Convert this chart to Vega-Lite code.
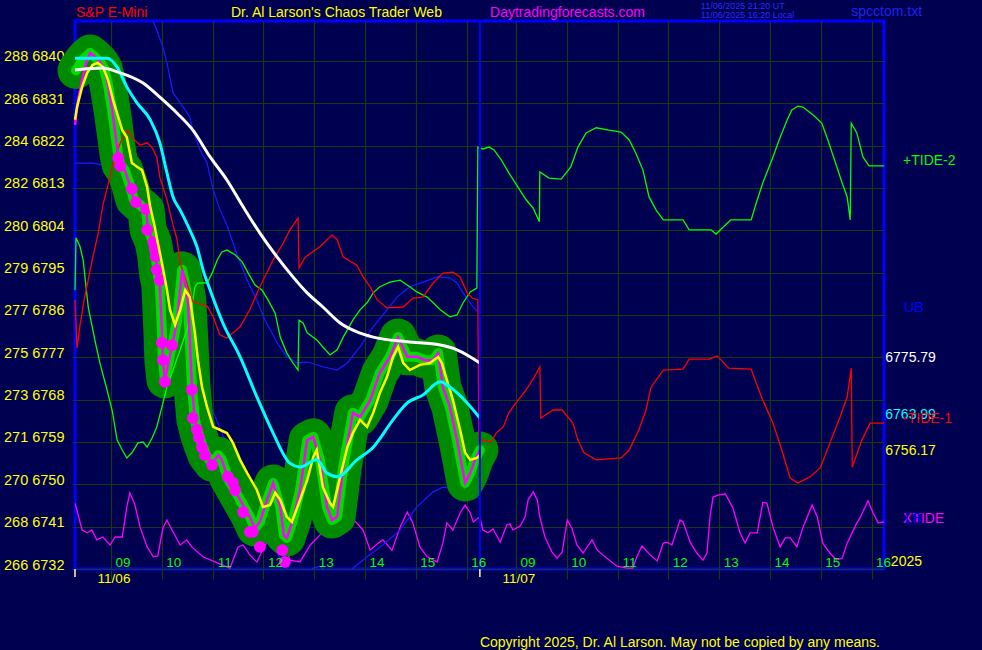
{
"$schema": "https://vega.github.io/schema/vega-lite/v6.json",
"width": 809, "height": 548,
"autosize": {"type": "none"},
"padding": {"left": 75, "top": 21, "right": 98, "bottom": 81},
"background": "#000050",
"config": {
 "view": {"stroke": "#0000ff", "strokeWidth": 3, "fill": "#000050"},
 "font": "Liberation Sans",
 "axis": {"domain": false, "title": null, "labelFont": "Liberation Sans"}
},
"datasets": {
 "white": [{"t":8.29,"p":6838.1},{"t":8.84,"p":6838.5},{"t":9.12,"p":6837.7},{"t":9.63,"p":6835.3},{"t":9.96,"p":6832.3},{"t":10.30,"p":6828.9},{"t":10.61,"p":6825.3},{"t":10.95,"p":6819.6},{"t":11.28,"p":6814.7},{"t":11.60,"p":6809.0},{"t":11.93,"p":6803.4},{"t":12.27,"p":6798.3},{"t":12.58,"p":6794.1},{"t":12.86,"p":6790.7},{"t":13.17,"p":6787.7},{"t":13.51,"p":6784.3},{"t":13.84,"p":6782.4},{"t":14.16,"p":6781.3},{"t":14.83,"p":6780.3},{"t":15.48,"p":6779.6},{"t":15.81,"p":6778.6},{"t":16.26,"p":6775.8}],
 "cyan": [{"t":8.29,"p":6840.6},{"t":8.92,"p":6840.6},{"t":9.12,"p":6838.7},{"t":9.31,"p":6834.5},{"t":9.51,"p":6831.1},{"t":9.77,"p":6827.5},{"t":9.96,"p":6822.6},{"t":10.10,"p":6816.2},{"t":10.22,"p":6811.1},{"t":10.36,"p":6808.3},{"t":10.55,"p":6804.1},{"t":10.69,"p":6800.5},{"t":10.81,"p":6795.6},{"t":10.95,"p":6791.3},{"t":11.20,"p":6784.3},{"t":11.54,"p":6777.1},{"t":11.87,"p":6768.6},{"t":12.19,"p":6760.9},{"t":12.52,"p":6754.5},{"t":12.72,"p":6753.7},{"t":13.05,"p":6755.2},{"t":13.25,"p":6752.4},{"t":13.45,"p":6751.6},{"t":13.84,"p":6755.2},{"t":14.16,"p":6757.9},{"t":14.55,"p":6763.7},{"t":14.83,"p":6767.3},{"t":15.14,"p":6769.0},{"t":15.48,"p":6771.8},{"t":15.67,"p":6770.7},{"t":16.01,"p":6767.3},{"t":16.26,"p":6764.1}],
 "yellow": [{"t":8.29,"p":6827.5},{"t":8.33,"p":6830.2},{"t":8.43,"p":6834.5},{"t":8.53,"p":6837.5},{"t":8.64,"p":6839.2},{"t":8.74,"p":6839.6},{"t":8.84,"p":6838.7},{"t":8.94,"p":6836.0},{"t":9.04,"p":6831.7},{"t":9.14,"p":6828.1},{"t":9.22,"p":6825.3},{"t":9.31,"p":6823.8},{"t":9.41,"p":6818.3},{"t":9.51,"p":6817.5},{"t":9.61,"p":6816.8},{"t":9.71,"p":6813.2},{"t":9.77,"p":6809.0},{"t":9.86,"p":6804.7},{"t":9.92,"p":6801.3},{"t":10.00,"p":6797.1},{"t":10.10,"p":6791.3},{"t":10.16,"p":6787.1},{"t":10.26,"p":6783.9},{"t":10.36,"p":6787.1},{"t":10.46,"p":6791.3},{"t":10.55,"p":6789.8},{"t":10.65,"p":6782.2},{"t":10.71,"p":6776.4},{"t":10.79,"p":6770.7},{"t":10.89,"p":6766.4},{"t":11.01,"p":6762.2},{"t":11.14,"p":6761.6},{"t":11.28,"p":6760.9},{"t":11.40,"p":6758.8},{"t":11.54,"p":6755.2},{"t":11.68,"p":6752.4},{"t":11.87,"p":6748.8},{"t":11.99,"p":6745.2},{"t":12.13,"p":6745.6},{"t":12.23,"p":6748.2},{"t":12.33,"p":6746.7},{"t":12.46,"p":6743.1},{"t":12.56,"p":6742.0},{"t":12.72,"p":6746.7},{"t":12.86,"p":6750.9},{"t":12.98,"p":6755.8},{"t":13.05,"p":6757.3},{"t":13.17,"p":6749.4},{"t":13.31,"p":6746.0},{"t":13.37,"p":6745.2},{"t":13.51,"p":6751.6},{"t":13.65,"p":6757.9},{"t":13.76,"p":6760.9},{"t":13.90,"p":6763.7},{"t":14.04,"p":6762.2},{"t":14.16,"p":6765.2},{"t":14.29,"p":6769.4},{"t":14.43,"p":6772.8},{"t":14.55,"p":6777.1},{"t":14.65,"p":6779.2},{"t":14.75,"p":6775.8},{"t":14.88,"p":6774.3},{"t":15.08,"p":6775.4},{"t":15.28,"p":6775.8},{"t":15.44,"p":6777.1},{"t":15.51,"p":6775.8},{"t":15.61,"p":6772.2},{"t":15.73,"p":6767.9},{"t":15.87,"p":6761.6},{"t":15.97,"p":6756.7},{"t":16.07,"p":6755.2},{"t":16.20,"p":6755.6},{"t":16.26,"p":6756.2}],
 "price": [{"t":8.29,"p":6826.4},{"t":8.35,"p":6831.7},{"t":8.43,"p":6836.0},{"t":8.51,"p":6839.8},{"t":8.59,"p":6841.7},{"t":8.68,"p":6840.9},{"t":8.78,"p":6839.8},{"t":8.86,"p":6838.5},{"t":8.94,"p":6834.9},{"t":9.02,"p":6829.6},{"t":9.10,"p":6823.2},{"t":9.14,"p":6820.0},{"t":9.18,"p":6817.9},{"t":9.27,"p":6816.8},{"t":9.37,"p":6813.6},{"t":9.45,"p":6810.5},{"t":9.57,"p":6809.4},{"t":9.69,"p":6808.3},{"t":9.73,"p":6804.1},{"t":9.83,"p":6801.5},{"t":9.88,"p":6798.5},{"t":9.92,"p":6794.5},{"t":9.96,"p":6792.4},{"t":10.00,"p":6782.8},{"t":10.02,"p":6776.4},{"t":10.06,"p":6772.2},{"t":10.16,"p":6777.5},{"t":10.22,"p":6780.3},{"t":10.30,"p":6784.9},{"t":10.36,"p":6791.3},{"t":10.40,"p":6795.6},{"t":10.46,"p":6792.4},{"t":10.51,"p":6789.2},{"t":10.55,"p":6780.7},{"t":10.59,"p":6771.1},{"t":10.65,"p":6763.7},{"t":10.71,"p":6761.1},{"t":10.79,"p":6758.4},{"t":10.87,"p":6756.2},{"t":10.99,"p":6754.5},{"t":11.11,"p":6756.2},{"t":11.18,"p":6755.2},{"t":11.30,"p":6751.3},{"t":11.40,"p":6749.4},{"t":11.60,"p":6745.6},{"t":11.73,"p":6743.1},{"t":11.83,"p":6740.7},{"t":11.93,"p":6742.0},{"t":12.07,"p":6746.7},{"t":12.19,"p":6750.3},{"t":12.33,"p":6745.2},{"t":12.40,"p":6739.2},{"t":12.46,"p":6738.6},{"t":12.58,"p":6742.4},{"t":12.72,"p":6748.8},{"t":12.86,"p":6759.4},{"t":12.98,"p":6760.1},{"t":13.11,"p":6755.2},{"t":13.25,"p":6745.2},{"t":13.35,"p":6742.4},{"t":13.45,"p":6743.1},{"t":13.57,"p":6753.7},{"t":13.76,"p":6765.2},{"t":13.90,"p":6764.3},{"t":14.10,"p":6767.9},{"t":14.29,"p":6773.7},{"t":14.49,"p":6777.1},{"t":14.65,"p":6781.3},{"t":14.83,"p":6777.1},{"t":15.02,"p":6777.1},{"t":15.18,"p":6776.4},{"t":15.34,"p":6776.4},{"t":15.44,"p":6777.9},{"t":15.53,"p":6770.7},{"t":15.67,"p":6766.4},{"t":15.81,"p":6759.4},{"t":15.97,"p":6750.3},{"t":16.07,"p":6752.4},{"t":16.16,"p":6755.2},{"t":16.26,"p":6757.3}],
 "glow": [{"t":8.31,"p":6838.0},{"t":8.43,"p":6840.0},{"t":8.51,"p":6841.0},{"t":8.59,"p":6841.7},{"t":8.68,"p":6840.9},{"t":8.78,"p":6839.8},{"t":8.86,"p":6838.5},{"t":8.94,"p":6834.9},{"t":9.02,"p":6829.6},{"t":9.10,"p":6823.2},{"t":9.14,"p":6820.0},{"t":9.18,"p":6817.9},{"t":9.27,"p":6816.8},{"t":9.37,"p":6813.6},{"t":9.45,"p":6810.5},{"t":9.57,"p":6809.4},{"t":9.69,"p":6808.3},{"t":9.73,"p":6804.1},{"t":9.83,"p":6801.5},{"t":9.88,"p":6798.5},{"t":9.92,"p":6794.5},{"t":9.96,"p":6792.4},{"t":10.00,"p":6782.8},{"t":10.02,"p":6776.4},{"t":10.06,"p":6772.2},{"t":10.16,"p":6777.5},{"t":10.22,"p":6780.3},{"t":10.30,"p":6784.9},{"t":10.36,"p":6791.3},{"t":10.40,"p":6795.6},{"t":10.46,"p":6792.4},{"t":10.51,"p":6789.2},{"t":10.55,"p":6780.7},{"t":10.59,"p":6771.1},{"t":10.65,"p":6763.7},{"t":10.71,"p":6761.1},{"t":10.79,"p":6758.4},{"t":10.87,"p":6756.2},{"t":10.99,"p":6754.5},{"t":11.11,"p":6756.2},{"t":11.18,"p":6755.2},{"t":11.30,"p":6751.3},{"t":11.40,"p":6749.4},{"t":11.60,"p":6745.6},{"t":11.73,"p":6743.1},{"t":11.83,"p":6740.7},{"t":11.93,"p":6742.0},{"t":12.07,"p":6746.7},{"t":12.19,"p":6750.3},{"t":12.33,"p":6745.2},{"t":12.40,"p":6739.2},{"t":12.46,"p":6738.6},{"t":12.58,"p":6742.4},{"t":12.72,"p":6748.8},{"t":12.86,"p":6759.4},{"t":12.98,"p":6760.1},{"t":13.11,"p":6755.2},{"t":13.25,"p":6745.2},{"t":13.35,"p":6742.4},{"t":13.45,"p":6743.1},{"t":13.57,"p":6753.7},{"t":13.76,"p":6765.2},{"t":13.90,"p":6764.3},{"t":14.10,"p":6767.9},{"t":14.29,"p":6773.7},{"t":14.49,"p":6777.1},{"t":14.65,"p":6781.3},{"t":14.83,"p":6777.1},{"t":15.02,"p":6777.1},{"t":15.18,"p":6776.4},{"t":15.34,"p":6776.4},{"t":15.44,"p":6777.9},{"t":15.53,"p":6770.7},{"t":15.67,"p":6766.4},{"t":15.81,"p":6759.4},{"t":15.97,"p":6750.3},{"t":16.07,"p":6752.4},{"t":16.16,"p":6755.2},{"t":16.26,"p":6757.3}],
 "dots": [{"t":9.14,"p":6819.4},{"t":9.18,"p":6817.7},{"t":9.41,"p":6812.8},{"t":9.49,"p":6810.0},{"t":9.69,"p":6808.5},{"t":9.71,"p":6804.1},{"t":9.83,"p":6801.5},{"t":9.86,"p":6800.2},{"t":9.88,"p":6798.5},{"t":9.90,"p":6795.6},{"t":9.96,"p":6793.4},{"t":10.00,"p":6780.1},{"t":10.02,"p":6776.4},{"t":10.06,"p":6771.8},{"t":10.20,"p":6779.6},{"t":10.59,"p":6770.1},{"t":10.61,"p":6764.1},{"t":10.69,"p":6761.6},{"t":10.73,"p":6759.9},{"t":10.79,"p":6757.9},{"t":10.85,"p":6756.2},{"t":10.99,"p":6754.1},{"t":11.30,"p":6751.6},{"t":11.40,"p":6750.3},{"t":11.44,"p":6748.8},{"t":11.60,"p":6744.1},{"t":11.73,"p":6739.9},{"t":11.79,"p":6739.9},{"t":11.93,"p":6736.7},{"t":12.37,"p":6736.0},{"t":12.42,"p":6733.5}],
 "red": [{"t":8.29,"p":6789.2},{"t":8.33,"p":6779.0},{"t":8.39,"p":6783.9},{"t":8.47,"p":6789.2},{"t":8.55,"p":6793.4},{"t":8.64,"p":6798.3},{"t":8.74,"p":6803.0},{"t":8.84,"p":6809.4},{"t":8.94,"p":6813.6},{"t":9.04,"p":6818.3},{"t":9.14,"p":6821.5},{"t":9.23,"p":6823.8},{"t":9.33,"p":6825.3},{"t":9.41,"p":6823.8},{"t":9.57,"p":6822.1},{"t":9.71,"p":6822.6},{"t":9.81,"p":6821.5},{"t":9.90,"p":6819.6},{"t":9.96,"p":6815.3},{"t":10.10,"p":6810.5},{"t":10.22,"p":6805.1},{"t":10.30,"p":6802.0},{"t":10.36,"p":6797.1},{"t":10.49,"p":6792.8},{"t":10.61,"p":6788.8},{"t":10.89,"p":6787.9},{"t":11.01,"p":6785.6},{"t":11.14,"p":6781.8},{"t":11.28,"p":6781.1},{"t":11.40,"p":6782.2},{"t":11.54,"p":6783.5},{"t":11.73,"p":6787.1},{"t":11.93,"p":6792.0},{"t":12.19,"p":6797.7},{"t":12.39,"p":6801.3},{"t":12.52,"p":6804.1},{"t":12.68,"p":6806.6},{"t":12.70,"p":6796.0},{"t":12.82,"p":6798.3},{"t":13.11,"p":6800.5},{"t":13.35,"p":6803.0},{"t":13.45,"p":6802.0},{"t":13.57,"p":6798.3},{"t":13.84,"p":6796.6},{"t":13.96,"p":6794.1},{"t":14.10,"p":6792.0},{"t":14.24,"p":6789.2},{"t":14.43,"p":6787.5},{"t":14.75,"p":6787.7},{"t":14.94,"p":6789.6},{"t":15.14,"p":6789.8},{"t":15.34,"p":6792.8},{"t":15.53,"p":6794.9},{"t":15.73,"p":6795.1},{"t":15.87,"p":6794.1},{"t":16.01,"p":6790.7},{"t":16.11,"p":6789.6},{"t":16.22,"p":6789.2},{"t":16.24,"p":6759.4},{"t":16.32,"p":6759.4},{"t":16.48,"p":6759.0},{"t":16.58,"p":6760.9},{"t":16.72,"p":6762.2},{"t":16.83,"p":6765.2},{"t":16.97,"p":6767.3},{"t":17.17,"p":6770.1},{"t":17.33,"p":6772.8},{"t":17.44,"p":6775.0},{"t":17.46,"p":6764.1},{"t":17.70,"p":6765.8},{"t":17.88,"p":6765.8},{"t":18.09,"p":6763.0},{"t":18.19,"p":6759.4},{"t":18.31,"p":6756.7},{"t":18.55,"p":6755.2},{"t":18.80,"p":6755.4},{"t":19.04,"p":6755.6},{"t":19.20,"p":6757.3},{"t":19.39,"p":6761.6},{"t":19.53,"p":6765.8},{"t":19.63,"p":6770.7},{"t":19.87,"p":6774.3},{"t":20.26,"p":6774.5},{"t":20.38,"p":6776.6},{"t":20.77,"p":6776.6},{"t":20.93,"p":6777.3},{"t":21.16,"p":6774.7},{"t":21.60,"p":6774.5},{"t":21.70,"p":6771.5},{"t":21.83,"p":6767.9},{"t":22.03,"p":6763.0},{"t":22.17,"p":6758.4},{"t":22.37,"p":6751.3},{"t":22.52,"p":6750.3},{"t":22.76,"p":6751.6},{"t":22.96,"p":6753.5},{"t":23.15,"p":6758.8},{"t":23.35,"p":6764.3},{"t":23.49,"p":6768.6},{"t":23.57,"p":6774.7},{"t":23.59,"p":6753.7},{"t":23.78,"p":6759.4},{"t":23.94,"p":6763.0},{"t":24.22,"p":6763.0}],
 "green": [{"t":8.29,"p":6791.3},{"t":8.31,"p":6802.4},{"t":8.39,"p":6800.5},{"t":8.45,"p":6797.7},{"t":8.55,"p":6787.7},{"t":8.68,"p":6780.7},{"t":8.78,"p":6775.8},{"t":8.92,"p":6770.1},{"t":9.02,"p":6765.8},{"t":9.12,"p":6759.4},{"t":9.22,"p":6757.3},{"t":9.31,"p":6755.6},{"t":9.41,"p":6756.7},{"t":9.53,"p":6758.8},{"t":9.63,"p":6759.0},{"t":9.71,"p":6757.9},{"t":9.81,"p":6759.9},{"t":9.90,"p":6762.2},{"t":10.00,"p":6766.4},{"t":10.10,"p":6770.7},{"t":10.22,"p":6774.3},{"t":10.36,"p":6778.6},{"t":10.49,"p":6782.8},{"t":10.59,"p":6787.7},{"t":10.65,"p":6792.0},{"t":10.71,"p":6792.8},{"t":10.89,"p":6792.8},{"t":10.99,"p":6794.9},{"t":11.09,"p":6797.7},{"t":11.18,"p":6799.4},{"t":11.28,"p":6799.8},{"t":11.44,"p":6798.8},{"t":11.58,"p":6797.3},{"t":11.70,"p":6794.9},{"t":11.83,"p":6792.4},{"t":11.97,"p":6791.3},{"t":12.09,"p":6789.2},{"t":12.23,"p":6786.4},{"t":12.33,"p":6781.3},{"t":12.46,"p":6777.9},{"t":12.58,"p":6775.8},{"t":12.68,"p":6774.3},{"t":12.70,"p":6784.9},{"t":12.78,"p":6784.3},{"t":12.86,"p":6782.2},{"t":13.05,"p":6780.7},{"t":13.17,"p":6779.2},{"t":13.31,"p":6777.5},{"t":13.45,"p":6778.6},{"t":13.57,"p":6781.3},{"t":13.76,"p":6784.9},{"t":13.90,"p":6787.1},{"t":14.04,"p":6788.6},{"t":14.16,"p":6790.7},{"t":14.29,"p":6792.0},{"t":14.49,"p":6793.0},{"t":14.69,"p":6793.4},{"t":14.88,"p":6792.0},{"t":15.02,"p":6790.9},{"t":15.22,"p":6789.8},{"t":15.34,"p":6788.6},{"t":15.48,"p":6787.1},{"t":15.67,"p":6785.6},{"t":15.81,"p":6786.0},{"t":15.93,"p":6788.6},{"t":16.07,"p":6790.9},{"t":16.20,"p":6791.7},{"t":16.22,"p":6821.7},{"t":16.32,"p":6821.3},{"t":16.44,"p":6821.7},{"t":16.54,"p":6821.1},{"t":16.68,"p":6819.0},{"t":16.83,"p":6816.2},{"t":17.01,"p":6813.2},{"t":17.17,"p":6810.5},{"t":17.31,"p":6808.7},{"t":17.43,"p":6805.8},{"t":17.44,"p":6816.4},{"t":17.62,"p":6815.1},{"t":17.86,"p":6814.9},{"t":18.05,"p":6817.5},{"t":18.19,"p":6821.7},{"t":18.35,"p":6824.7},{"t":18.55,"p":6825.8},{"t":18.80,"p":6825.3},{"t":19.04,"p":6824.9},{"t":19.20,"p":6823.2},{"t":19.33,"p":6820.4},{"t":19.47,"p":6816.8},{"t":19.59,"p":6811.1},{"t":19.73,"p":6808.3},{"t":19.87,"p":6806.2},{"t":20.26,"p":6806.2},{"t":20.38,"p":6804.1},{"t":20.81,"p":6804.1},{"t":20.91,"p":6803.2},{"t":21.05,"p":6804.7},{"t":21.20,"p":6806.2},{"t":21.60,"p":6806.2},{"t":21.70,"p":6809.8},{"t":21.83,"p":6814.1},{"t":22.03,"p":6819.6},{"t":22.15,"p":6823.2},{"t":22.31,"p":6827.5},{"t":22.40,"p":6829.6},{"t":22.52,"p":6830.4},{"t":22.62,"p":6830.2},{"t":22.82,"p":6828.5},{"t":22.99,"p":6826.8},{"t":23.11,"p":6823.2},{"t":23.24,"p":6819.0},{"t":23.39,"p":6814.1},{"t":23.49,"p":6811.1},{"t":23.55,"p":6806.2},{"t":23.57,"p":6826.8},{"t":23.68,"p":6824.7},{"t":23.80,"p":6819.6},{"t":23.92,"p":6817.7},{"t":24.22,"p":6817.7}],
 "ub": [{"t":9.77,"p":6849.8},{"t":9.90,"p":6846.6},{"t":10.02,"p":6843.0},{"t":10.10,"p":6839.6},{"t":10.22,"p":6833.2},{"t":10.42,"p":6830.2},{"t":10.55,"p":6828.1},{"t":10.61,"p":6825.3},{"t":10.75,"p":6821.1},{"t":10.89,"p":6818.3},{"t":11.01,"p":6812.6},{"t":11.14,"p":6808.5},{"t":11.28,"p":6805.1},{"t":11.48,"p":6798.8},{"t":11.68,"p":6793.4},{"t":11.87,"p":6789.2},{"t":12.03,"p":6784.9},{"t":12.27,"p":6780.1},{"t":12.46,"p":6777.1},{"t":12.66,"p":6775.8},{"t":12.86,"p":6776.0},{"t":13.17,"p":6775.0},{"t":13.45,"p":6774.3},{"t":13.65,"p":6775.8},{"t":13.90,"p":6779.2},{"t":14.16,"p":6783.5},{"t":14.43,"p":6787.1},{"t":14.63,"p":6789.8},{"t":14.88,"p":6792.0},{"t":15.14,"p":6793.0},{"t":15.42,"p":6794.1},{"t":15.67,"p":6793.9},{"t":15.81,"p":6792.8},{"t":15.93,"p":6790.7},{"t":16.13,"p":6787.7},{"t":16.22,"p":6786.6}],
 "lb": [{"t":8.29,"p":6818.3},{"t":8.64,"p":6818.3},{"t":8.84,"p":6817.9},{"t":9.04,"p":6816.8},{"t":9.18,"p":6815.3},{"t":9.27,"p":6813.2},{"t":9.47,"p":6807.3},{"t":9.67,"p":6800.9},{"t":9.86,"p":6794.5},{"t":10.06,"p":6788.1},{"t":10.26,"p":6781.8},{"t":10.46,"p":6776.4},{"t":10.65,"p":6772.2},{"t":10.75,"p":6769.4},{"t":10.89,"p":6767.3},{"t":11.01,"p":6765.4},{"t":11.24,"p":6759.4},{"t":11.54,"p":6752.0},{"t":11.83,"p":6744.5},{"t":12.13,"p":6738.2},{"t":12.42,"p":6732.4},{"t":12.72,"p":6729.7},{"t":12.98,"p":6732.2},{"t":13.11,"p":6732.6},{"t":13.41,"p":6729.7},{"t":13.74,"p":6732.0},{"t":14.04,"p":6734.6},{"t":14.35,"p":6737.1},{"t":14.69,"p":6740.3},{"t":15.02,"p":6745.2},{"t":15.34,"p":6748.4},{"t":15.53,"p":6749.4},{"t":15.73,"p":6749.2},{"t":16.01,"p":6748.2},{"t":16.26,"p":6747.1}],
 "xtide": [{"t":8.29,"p":6746.0},{"t":8.43,"p":6740.3},{"t":8.53,"p":6739.7},{"t":8.62,"p":6740.3},{"t":8.72,"p":6738.2},{"t":8.84,"p":6738.8},{"t":8.98,"p":6737.1},{"t":9.08,"p":6738.8},{"t":9.22,"p":6738.8},{"t":9.31,"p":6745.2},{"t":9.37,"p":6748.2},{"t":9.47,"p":6745.6},{"t":9.57,"p":6740.9},{"t":9.71,"p":6736.7},{"t":9.83,"p":6734.6},{"t":9.92,"p":6734.8},{"t":10.02,"p":6740.7},{"t":10.10,"p":6742.4},{"t":10.20,"p":6740.3},{"t":10.36,"p":6737.1},{"t":10.49,"p":6738.2},{"t":10.59,"p":6736.7},{"t":10.81,"p":6734.6},{"t":11.09,"p":6733.3},{"t":11.34,"p":6732.2},{"t":11.50,"p":6736.7},{"t":11.60,"p":6737.1},{"t":11.73,"p":6735.0},{"t":11.87,"p":6733.5},{"t":12.03,"p":6737.1},{"t":12.19,"p":6738.8},{"t":12.33,"p":6739.2},{"t":12.46,"p":6736.0},{"t":12.52,"p":6733.9},{"t":12.72,"p":6733.5},{"t":12.92,"p":6737.1},{"t":13.11,"p":6739.2},{"t":13.31,"p":6741.4},{"t":13.51,"p":6742.6},{"t":13.65,"p":6742.6},{"t":13.80,"p":6742.2},{"t":13.96,"p":6740.3},{"t":14.10,"p":6736.0},{"t":14.26,"p":6737.5},{"t":14.35,"p":6738.2},{"t":14.53,"p":6736.0},{"t":14.69,"p":6740.9},{"t":14.83,"p":6744.1},{"t":14.94,"p":6741.8},{"t":15.08,"p":6736.7},{"t":15.22,"p":6734.6},{"t":15.42,"p":6733.5},{"t":15.53,"p":6737.5},{"t":15.61,"p":6741.8},{"t":15.73,"p":6740.3},{"t":15.87,"p":6743.9},{"t":15.97,"p":6745.6},{"t":16.07,"p":6743.9},{"t":16.13,"p":6742.0},{"t":16.26,"p":6743.1},{"t":16.32,"p":6740.3},{"t":16.42,"p":6739.7},{"t":16.52,"p":6740.5},{"t":16.66,"p":6737.7},{"t":16.79,"p":6741.4},{"t":16.85,"p":6741.6},{"t":16.91,"p":6740.3},{"t":17.05,"p":6741.1},{"t":17.15,"p":6743.1},{"t":17.21,"p":6746.7},{"t":17.31,"p":6748.4},{"t":17.39,"p":6746.7},{"t":17.44,"p":6743.1},{"t":17.54,"p":6738.8},{"t":17.68,"p":6735.6},{"t":17.78,"p":6734.3},{"t":17.88,"p":6735.6},{"t":17.98,"p":6742.4},{"t":18.07,"p":6740.7},{"t":18.17,"p":6737.1},{"t":18.29,"p":6735.4},{"t":18.47,"p":6738.2},{"t":18.57,"p":6736.0},{"t":18.76,"p":6734.3},{"t":18.96,"p":6732.6},{"t":19.16,"p":6732.2},{"t":19.27,"p":6732.2},{"t":19.35,"p":6734.6},{"t":19.45,"p":6736.9},{"t":19.61,"p":6735.0},{"t":19.75,"p":6733.7},{"t":19.87,"p":6737.5},{"t":19.95,"p":6737.7},{"t":20.04,"p":6737.1},{"t":20.20,"p":6742.4},{"t":20.26,"p":6742.0},{"t":20.40,"p":6737.7},{"t":20.53,"p":6735.4},{"t":20.65,"p":6733.9},{"t":20.73,"p":6735.4},{"t":20.79,"p":6743.1},{"t":20.85,"p":6747.3},{"t":20.95,"p":6747.7},{"t":21.09,"p":6748.0},{"t":21.24,"p":6745.0},{"t":21.38,"p":6739.7},{"t":21.48,"p":6737.5},{"t":21.58,"p":6739.7},{"t":21.72,"p":6739.7},{"t":21.83,"p":6746.2},{"t":21.91,"p":6746.0},{"t":22.03,"p":6740.9},{"t":22.17,"p":6736.7},{"t":22.27,"p":6738.6},{"t":22.37,"p":6738.6},{"t":22.50,"p":6736.7},{"t":22.62,"p":6740.9},{"t":22.80,"p":6745.6},{"t":22.90,"p":6743.1},{"t":23.01,"p":6737.5},{"t":23.15,"p":6735.4},{"t":23.28,"p":6733.9},{"t":23.39,"p":6734.3},{"t":23.49,"p":6737.5},{"t":23.68,"p":6741.8},{"t":23.74,"p":6742.8},{"t":23.90,"p":6746.5},{"t":24.00,"p":6743.9},{"t":24.10,"p":6741.8},{"t":24.22,"p":6742.0}],
 "hours": [{"t":9,"p":6732,"txt":"09"},{"t":10,"p":6732,"txt":"10"},{"t":11,"p":6732,"txt":"11"},{"t":12,"p":6732,"txt":"12"},{"t":13,"p":6732,"txt":"13"},{"t":14,"p":6732,"txt":"14"},{"t":15,"p":6732,"txt":"15"},{"t":16,"p":6732,"txt":"16"},{"t":16.97,"p":6732,"txt":"09"},{"t":17.97,"p":6732,"txt":"10"},{"t":18.97,"p":6732,"txt":"11"},{"t":19.97,"p":6732,"txt":"12"},{"t":20.97,"p":6732,"txt":"13"},{"t":21.97,"p":6732,"txt":"14"},{"t":22.97,"p":6732,"txt":"15"},{"t":23.97,"p":6732,"txt":"16"}],
 "days": [{"t":8.29,"p":6732,"p2":6730.3,"txt":"11/06"},{"t":16.26,"p":6732,"p2":6730.3,"txt":"11/07"}],
 "divider": [{"t":16.26,"p":6732,"p2":6848.5}],
 "stamps": [{"t":20.61,"p":6851.7,"txt":"11/06/2025 21:20 UT"},{"t":20.61,"p":6849.7,"txt":"11/06/2025 16:20 Local"}],
 "notes": [{"t":8.31,"p":6850.2,"txt":"S&P E-Mini","role":"symbol"},{"t":11.36,"p":6850.2,"txt":"Dr. Al Larson's Chaos Trader Web","role":"author"},{"t":16.46,"p":6850.2,"txt":"Daytradingforecasts.com","role":"site"},{"t":23.57,"p":6850.4,"txt":"spcctom.txt","role":"file"},{"t":16.26,"p":6716.3,"txt":"Copyright 2025, Dr. Al Larson. May not be copied by any means.","role":"copyright"},{"t":24.59,"p":6818.7,"txt":"+TIDE-2","role":"tide2"},{"t":24.61,"p":6787.5,"txt":"UB","role":"ub"},{"t":24.24,"p":6776.9,"txt":"6775.79","role":"long"},{"t":24.24,"p":6764.7,"txt":"6763.99","role":"mid"},{"t":24.59,"p":6763.9,"txt":"-TIDE-1","role":"tide1"},{"t":24.24,"p":6757.1,"txt":"6756.17","role":"short"},{"t":24.59,"p":6742.6,"txt":"XTIDE","role":"xtide"},{"t":24.63,"p":6742.6,"txt":"LB","role":"lb"},{"t":24.35,"p":6733.5,"txt":"2025","role":"year"}]
},
"encoding": {
 "x": {"field": "t", "type": "quantitative",
  "scale": {"domain": [8.29, 24.215], "nice": false, "zero": false},
  "axis": {"values": [9,10,11,12,13,14,15,16,16.97,17.97,18.97,19.97,20.97,21.97,22.97,23.97], "grid": true, "gridColor": "#153a14", "gridWidth": 1.2, "labels": false, "ticks": true, "tickColor": "#153a14", "tickSize": 10, "tickWidth": 1.2}},
 "y": {"field": "p", "type": "quantitative",
  "scale": {"domain": [6732, 6848.5], "nice": false, "zero": false},
  "axis": {"values": [6732,6741,6750,6759,6768,6777,6786,6795,6804,6813,6822,6831,6840], "grid": true, "gridColor": "#153a14", "gridWidth": 1.2, "tickColor": "#153a14", "tickSize": 3, "labelPadding": 8, "labelColor": "#ffff00", "labelFontSize": 14.5, "labelBaseline": "alphabetic", "labelExpr": "['266','268','270','271','273','275','277','279','280','282','284','286','288'][round((datum.value-6732)/9)] + '  ' + datum.value"}}
},
"layer": [
 {"data": {"name": "xtide"}, "mark": {"type": "line", "color": "#ff00ff", "strokeWidth": 1.3, "clip": true}},
 {"data": {"name": "ub"}, "mark": {"type": "line", "color": "#1a1aff", "strokeWidth": 1.2, "clip": true}},
 {"data": {"name": "lb"}, "mark": {"type": "line", "color": "#1a1aff", "strokeWidth": 1.2, "clip": true}},
 {"data": {"name": "glow"}, "mark": {"type": "line", "color": "#008a00", "strokeWidth": 37, "strokeCap": "round", "strokeJoin": "round"}},
 {"data": {"name": "glow"}, "mark": {"type": "line", "color": "#00ff00", "strokeWidth": 10, "strokeCap": "round", "strokeJoin": "round", "opacity": 0.7}},
 {"data": {"name": "green"}, "mark": {"type": "line", "color": "#00ff00", "strokeWidth": 1.3}},
 {"data": {"name": "red"}, "mark": {"type": "line", "color": "#ff0000", "strokeWidth": 1.3}},
 {"data": {"name": "price"}, "mark": {"type": "line", "color": "#ff00ff", "strokeWidth": 2.5}},
 {"data": {"name": "dots"}, "mark": {"type": "circle", "color": "#ff00ff", "opacity": 1, "size": 140}},
 {"data": {"name": "yellow"}, "mark": {"type": "line", "color": "#ffff00", "strokeWidth": 2.5}},
 {"data": {"name": "cyan"}, "mark": {"type": "line", "color": "#00ffff", "strokeWidth": 3, "interpolate": "monotone"}},
 {"data": {"name": "white"}, "mark": {"type": "line", "color": "#ffffff", "strokeWidth": 3, "interpolate": "monotone"}},
 {"data": {"name": "divider"}, "mark": {"type": "rule", "color": "#0000ff", "strokeWidth": 2}, "encoding": {"y2": {"field": "p2"}}},
 {"data": {"name": "days"}, "mark": {"type": "rule", "color": "#ffffa0", "strokeWidth": 1.5}, "encoding": {"y2": {"field": "p2"}}},
 {"data": {"name": "days"}, "mark": {"type": "text", "color": "#ffff00", "fontSize": 13.5, "dx": 39, "dy": 10, "align": "center", "baseline": "middle"}, "encoding": {"text": {"field": "txt"}}},
 {"data": {"name": "hours"}, "mark": {"type": "text", "color": "#00ff00", "fontSize": 13.5, "dx": 12, "dy": -6, "align": "center", "baseline": "middle"}, "encoding": {"text": {"field": "txt"}}},
 {"data": {"name": "stamps"}, "mark": {"type": "text", "color": "#2a2aff", "fontSize": 9, "align": "left", "baseline": "middle"}, "encoding": {"text": {"field": "txt"}}},
 {"data": {"name": "notes"}, "mark": {"type": "text", "fontSize": 14, "align": "left", "baseline": "middle"},
  "encoding": {"text": {"field": "txt"},
   "color": {"field": "role", "type": "nominal", "legend": null,
    "scale": {"domain": ["symbol","author","site","file","copyright","tide2","ub","long","mid","tide1","short","xtide","lb","year"],
              "range": ["#ff0000","#ffff00","#ff00ff","#2222ee","#ffff00","#00ff00","#0000ff","#ffffff","#00ffff","#ff0000","#ffff00","#ff00ff","#0000ff","#ffff00"]}}}}
]
}
